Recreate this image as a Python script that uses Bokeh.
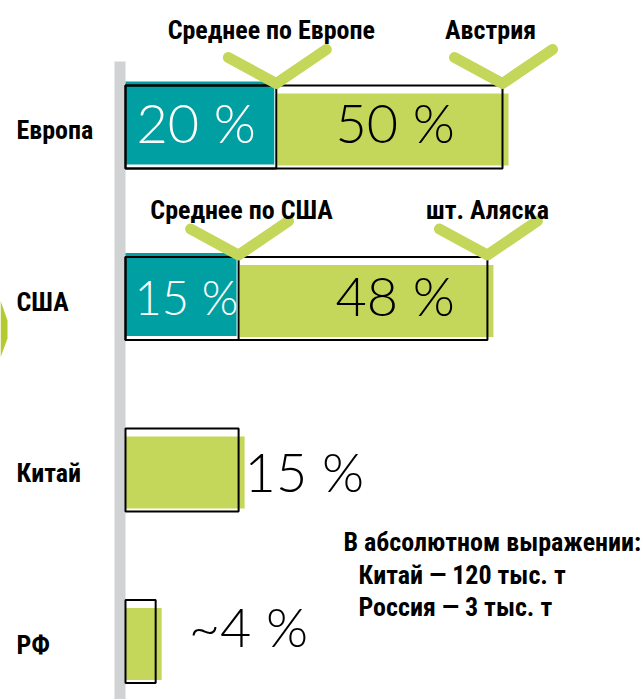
import glob
import os
from bokeh.plotting import figure
from bokeh.models import Range1d
from bokeh.core.properties import value
from bokeh.embed import file_html
from bokeh.resources import INLINE

# ---------------- data ----------------
categories = ["Европа", "США", "Китай", "РФ"]
values = [50, 48, 15, 4]
value_labels = ["50 %", "48 %", "15 %", "~4 %"]
avg_values = [20, 15]
avg_labels = ["20 %", "15 %"]
avg_names = ["Среднее по Европе", "Среднее по США"]
peak_names = ["Австрия", "шт. Аляска"]
note_lines = ["В абсолютном выражении:", "Китай — 120 тыс. т", "Россия — 3 тыс. т"]

# ---------------- fonts ----------------
def _font_files():
    dirs = ["/usr/share/fonts", "/usr/local/share/fonts",
            os.path.expanduser("~/.fonts"), os.path.expanduser("~/.local/share/fonts")]
    out = []
    for d in dirs:
        for f in glob.glob(os.path.join(d, "**", "*"), recursive=True):
            out.append(os.path.basename(f).lower().replace(" ", "").replace("-", "").replace("_", ""))
    return " ".join(out)

_files = _font_files()
_candidates = [
    ("robotocondensedbold", "Roboto Condensed", 26),
    ("liberationsansnarrowbold", "Liberation Sans Narrow", 26),
    ("notosansextracondensedbold", "Noto Sans ExtraCondensed", 29),
    ("notosanscondensedbold", "Noto Sans Condensed", 26),
    ("dejavusanscondensedbold", "DejaVu Sans Condensed", 22),
]
LABEL_FAMILY, LABEL_PX = "Roboto", 21
for key, fam, size in _candidates:
    if key in _files:
        LABEL_FAMILY, LABEL_PX = fam, size
        break
LABEL_FONT = value(LABEL_FAMILY + ", Roboto")
LABEL_SIZE = "%spx" % LABEL_PX
NUM_FONT = value("Lato Light, Lato")
NUM_PX = 54
NUM_SIZE = "%dpx" % NUM_PX
SHIFT = 0.4  # empirical baseline correction (in em)

# ---------------- layout ----------------
W, H = 642, 699
PX_X = 7.54          # pixels per percent
PX_Y = 171.5         # pixels per row
X0_PX = 125.0        # pixel of value 0
Y0_PX = 126.5        # pixel of first row centre

def dx(px):
    return px / PX_X

def dy(px):
    return px / PX_Y

x_start = -X0_PX / PX_X
y_top = -Y0_PX / PX_Y
y_bot = y_top + H / PX_Y

TEAL = "#00a0a2"
GREEN = "#c5d75b"
ARROW = "#b4ca30"
GRAY = "#d1d2d4"

p = figure(width=W, height=H, output_backend="svg", toolbar_location=None,
           x_range=Range1d(x_start, x_start + W / PX_X),
           y_range=Range1d(y_bot, y_top),
           min_border=0, outline_line_color=None)
p.axis.visible = False
p.grid.visible = False
p.background_fill_color = "white"
p.border_fill_color = "white"

rows = list(range(len(categories)))
ar = list(range(len(avg_values)))
half = dy(83) / 2

# gray baseline bar
p.quad(left=[-dx(11)], right=[0], top=[y_top + dy(61)], bottom=[y_bot],
       fill_color=GRAY, line_color=None)

# small chevron at the left edge (USA row)
r1 = 1
p.patch(x=[x_start, x_start + dx(7), x_start + dx(7), x_start],
        y=[r1 + dy(2), r1 + dy(22), r1 + dy(40), r1 + dy(59)],
        fill_color=ARROW, line_color=None)

# green fills (from average, or 0, to value)
starts = [avg_values[i] if i < len(avg_values) else 0 for i in rows]
p.quad(left=[s + (dx(1) if s > 0 else 0) for s in starts],
       right=[v + dx(6) for v in values],
       top=[r - half + dy(8) for r in rows],
       bottom=[r + half - dy(3) for r in rows],
       fill_color=GREEN, line_color=None)

# teal averages
p.quad(left=[0] * len(ar), right=[a - dx(2) for a in avg_values],
       top=[r - half - dy(4) for r in ar], bottom=[r + half - dy(4) for r in ar],
       fill_color=TEAL, line_color=None)

# outlines
p.quad(left=[0] * len(rows), right=values,
       top=[r - half for r in rows], bottom=[r + half for r in rows],
       fill_color=None, line_color="black", line_width=2)
p.quad(left=[0] * len(ar), right=avg_values,
       top=[r - half for r in ar], bottom=[r + half for r in ar],
       fill_color=None, line_color="black", line_width=2)

# check marks above the average and peak positions
xs, ys = [], []
for i in ar:
    for xv in (avg_values[i], values[i]):
        vy = i - half - dy(2)
        xs.append([xv - dx(48), xv, xv + dx(50)])
        ys.append([vy - dy(26), vy, vy - dy(34)])
p.multi_line(xs=xs, ys=ys, line_color=GREEN, line_width=11,
             line_cap="round", line_join="round")

# header labels
head_dx = [[-5, -12], [3, 0]]
head_dy = [-45, -37]
hx, hy, ht = [], [], []
for i in ar:
    hx += [avg_values[i] + dx(head_dx[i][0]), values[i] + dx(head_dx[i][1])]
    hy += [i - half + dy(head_dy[i] - SHIFT * LABEL_PX)] * 2
    ht += [avg_names[i], peak_names[i]]
p.text(x=hx, y=hy, text=ht, text_font=LABEL_FONT, text_font_style="bold",
       text_font_size=LABEL_SIZE, text_align="center", text_baseline="alphabetic",
       text_color="black")

# category labels
p.text(x=[x_start + dx(16)] * len(rows),
       y=[r + dy(13.5 - SHIFT * LABEL_PX) for r in rows], text=categories,
       text_font=LABEL_FONT, text_font_style="bold", text_font_size=LABEL_SIZE,
       text_align="left", text_baseline="alphabetic", text_color="black")

# average value labels (white, inside teal)
avg_px = [54, 47]
avg_dy = [17.5, 17.5]
p.text(x=[dx(11), dx(9)], y=[r + dy(d - SHIFT * s) for r, d, s in zip(ar, avg_dy, avg_px)],
       text=avg_labels, text_font=NUM_FONT, text_font_size=["%dpx" % s for s in avg_px],
       text_align="left", text_baseline="alphabetic", text_color="white")

# value labels
label_dy = [17.5, 18.5, 23.5, 7]
label_x = [dx(210), dx(210), values[2] + dx(6), values[3] + dx(33)]
p.text(x=label_x, y=[r + dy(d - SHIFT * NUM_PX) for r, d in zip(rows, label_dy)],
       text=value_labels, text_font=NUM_FONT, text_font_size=NUM_SIZE, text_align="left",
       text_baseline="alphabetic", text_color="black")

# note block
note_x = [dx(218), dx(233), dx(233)]
note_y = [y_top + dy(b - SHIFT * LABEL_PX) for b in (552, 585, 617)]
p.text(x=note_x, y=note_y, text=note_lines, text_font=LABEL_FONT,
       text_font_style="bold", text_font_size=LABEL_SIZE, text_align="left",
       text_baseline="alphabetic", text_color="black")

open("out.html", "w").write(file_html(p, INLINE))
